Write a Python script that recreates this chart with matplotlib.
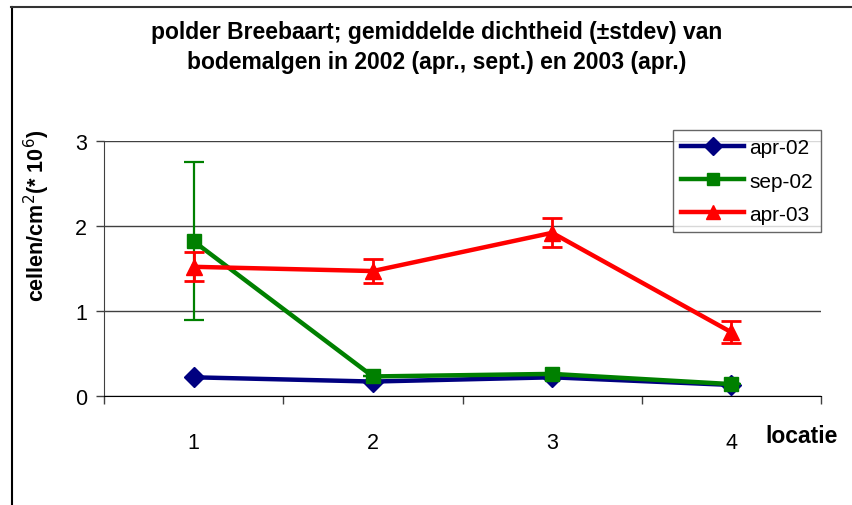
import numpy as np
import matplotlib.pyplot as plt
from matplotlib.lines import Line2D
from matplotlib.ticker import FixedLocator, NullFormatter

plt.rcParams['font.family'] = ['Liberation Sans', 'DejaVu Sans']

# Data
locaties = [1, 2, 3, 4]
apr02 = [0.22, 0.17, 0.22, 0.13]
sep02 = [1.82, 0.23, 0.26, 0.14]
sep02_sd = [0.93, 0.0, 0.0, 0.0]
apr03 = [1.52, 1.47, 1.92, 0.75]
apr03_sd = [0.17, 0.14, 0.17, 0.13]


def main():
    fig = plt.figure(figsize=(8.52, 5.06), dpi=100)
    ax = fig.add_axes([104 / 852, 1 - 397 / 506, (821 - 104) / 852, (397 - 142) / 506])

    # series, drawn in the same order as the original
    ax.plot(locaties, apr02, color="#000080", lw=3.2, marker="D", ms=10,
            label="apr-02", zorder=3)
    ax.errorbar(locaties, sep02, yerr=sep02_sd, fmt="none", ecolor="#008000",
                elinewidth=1.6, capsize=7, capthick=1.6, zorder=4)
    ax.plot(locaties, sep02, color="#008000", lw=3.2, marker="s", ms=10,
            label="sep-02", zorder=4)
    ax.errorbar(locaties, apr03, yerr=apr03_sd, fmt="none", ecolor="#FF0000",
                elinewidth=2, capsize=7, capthick=2, zorder=5)
    ax.plot(locaties, apr03, color="#FF0000", lw=3.2, marker="^", ms=11,
            label="apr-03", zorder=5)

    ax.set_xlim(0.5, 4.5)
    ax.set_ylim(0, 3)
    ax.set_yticks([0, 1, 2, 3])
    ax.yaxis.grid(True, color="#404040", lw=1)
    ax.set_axisbelow(True)

    ax.xaxis.set_major_locator(FixedLocator(locaties))
    ax.xaxis.set_minor_locator(FixedLocator([0.5, 1.5, 2.5, 3.5, 4.5]))
    ax.xaxis.set_minor_formatter(NullFormatter())
    ax.tick_params(axis="x", which="major", length=0, pad=26, labelsize=15.5)
    ax.tick_params(axis="x", which="minor", length=6, width=1, color="#404040")
    ax.tick_params(axis="y", length=6, width=1, color="#404040", labelsize=15.5, pad=6)

    for side in ("top", "right"):
        ax.spines[side].set_visible(False)
    ax.spines["left"].set_color("#404040")
    ax.spines["bottom"].set_color("#000000")

    ax.set_ylabel("cellen/cm$^2$(* 10$^6$)", fontsize=15.5, fontweight="bold")
    ax.yaxis.set_label_coords(-0.072, 0.71)
    fig.text(802 / 852, 1 - 437 / 506, "locatie", fontsize=16.5, fontweight="bold",
             ha="center", va="center")

    fig.text(437 / 852, 1 - 32 / 506, "polder Breebaart; gemiddelde dichtheid (\u00b1stdev) van",
             fontsize=16.5, fontweight="bold", ha="center", va="center")
    fig.text(437 / 852, 1 - 62 / 506, "bodemalgen in 2002 (apr., sept.) en 2003 (apr.)",
             fontsize=16.5, fontweight="bold", ha="center", va="center")

    leg = ax.legend(loc="upper right", bbox_to_anchor=(821 / 852, 1 - 131 / 506),
                    bbox_transform=fig.transFigure, fontsize=15, frameon=True,
                    fancybox=False, edgecolor="#404040", handlelength=3.0,
                    borderpad=0.4, labelspacing=0.68, handletextpad=0.25,
                    borderaxespad=0, markerscale=0.9)
    leg.get_frame().set_linewidth(1)

    # outer chart frame (only left and top edges visible)
    fig.add_artist(Line2D([11.5 / 852, 11.5 / 852], [0, 1 - 8 / 506], color="black", lw=1.5))
    fig.add_artist(Line2D([11 / 852, 1], [1 - 8 / 506, 1 - 8 / 506], color="#333333", lw=1.5))

    fig.savefig("out.png", dpi=100)


if __name__ == "__main__":
    main()
